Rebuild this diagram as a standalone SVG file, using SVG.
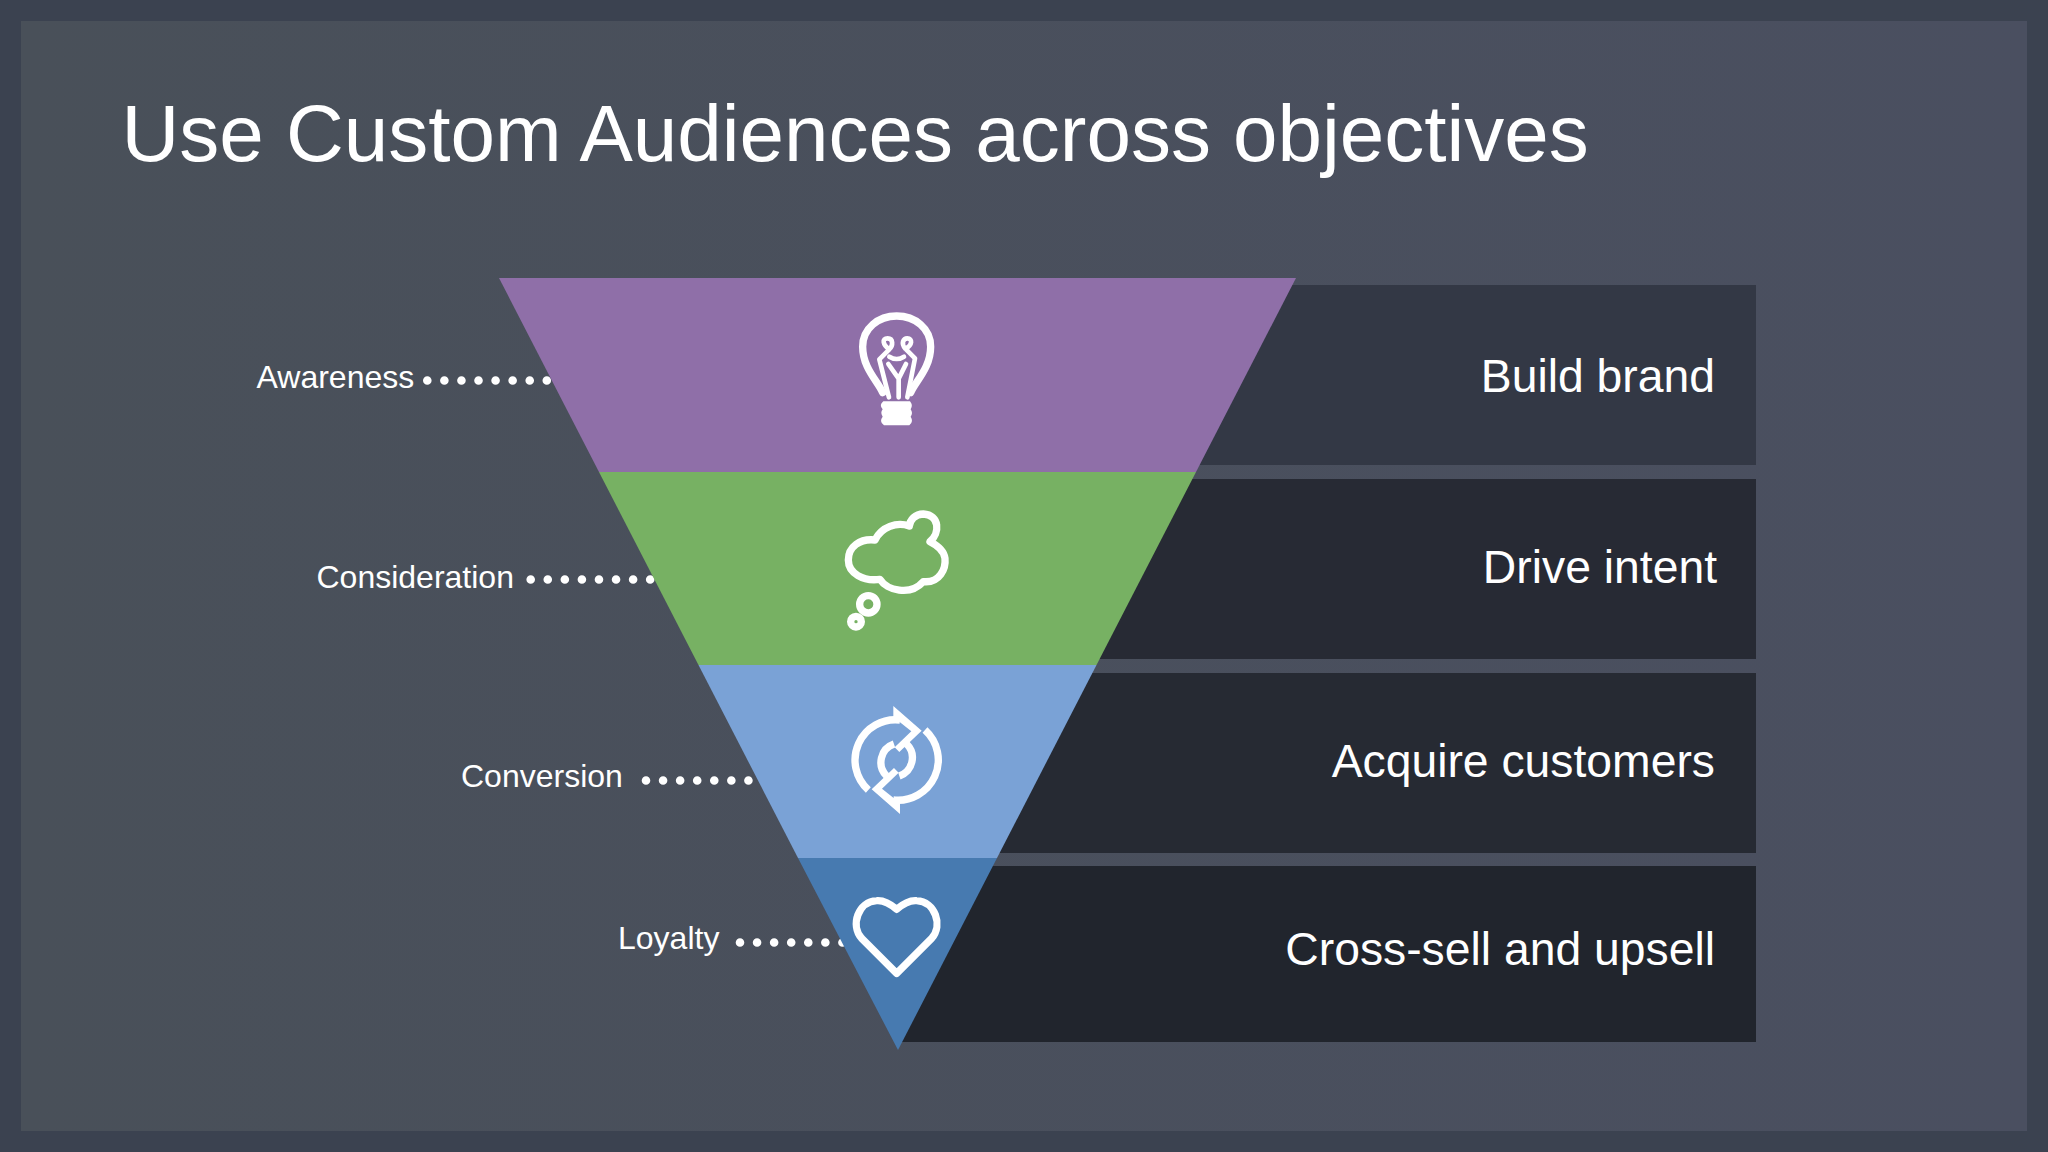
<svg xmlns="http://www.w3.org/2000/svg" xmlns:xlink="http://www.w3.org/1999/xlink" width="2048" height="1152" viewBox="0 0 2048 1152">
<defs>
<linearGradient id="bg" x1="0" y1="0" x2="1" y2="0"><stop offset="0" stop-color="#495059"/><stop offset="1" stop-color="#4a4f60"/></linearGradient>
<g id="syncHalf"><path d="M145,300 A121,121 0 0 1 240,90" class="z" style="stroke-linecap:butt"/><path d="M222,162 A58,58 0 0 0 200,258" class="z" style="stroke-linecap:butt"/><polygon points="220,48 305,122 238,186 224,172 274,124 240,97 220,85" fill="#fff"/></g>
</defs>
<style>
.t{font-family:"Liberation Sans",Arial,sans-serif;fill:#fff}
.lab{font-size:32px}
.big{font-size:46.3px;text-anchor:end}
.z{fill:none;stroke:#fff;stroke-width:22;stroke-linejoin:round;stroke-linecap:round}
.f{fill:none;stroke:#fff;stroke-width:14;stroke-linejoin:round;stroke-linecap:round}
.d{fill:none;stroke:#fff;stroke-width:8.6;stroke-linecap:round;stroke-dasharray:0 17.07}
</style>
<rect width="2048" height="1152" fill="#3b4250"/>
<rect x="21" y="21" width="2006" height="1110" fill="url(#bg)"/>
<text class="t" x="121.5" y="161" font-size="80">Use Custom Audiences across objectives</text>
<g id="bars">
<g id="bar-build"><rect x="1100" y="285" width="656" height="180" fill="#333845"/><text class="t big" x="1715" y="392">Build brand</text></g>
<g id="bar-drive"><rect x="1050" y="479" width="706" height="180" fill="#272a34"/><text class="t big" x="1717" y="583">Drive intent</text></g>
<g id="bar-acquire"><rect x="950" y="673" width="806" height="180" fill="#262a33"/><text class="t big" x="1715" y="777">Acquire customers</text></g>
<g id="bar-cross"><rect x="902" y="866" width="854" height="176" fill="#21252d"/><text class="t big" x="1715" y="965">Cross-sell and upsell</text></g>
</g>
<g id="connectors">
<line class="d" x1="427.3" y1="380.5" x2="548" y2="380.5"/>
<line class="d" x1="530.7" y1="579.5" x2="651" y2="579.5"/>
<line class="d" x1="646" y1="780.5" x2="750" y2="780.5"/>
<line class="d" x1="740" y1="942.5" x2="844" y2="942.5"/>
</g>
<g id="funnel">
<g id="awareness"><polygon points="499,278 1296,278 1196,472 599,472" fill="#8f6fa8"/>
<g transform="translate(820 290) scale(.3333)"><path class="z" d="M188,308 C175,275 128,235 128,170 C128,115 175,78 230,78 C285,78 332,115 332,170 C332,235 285,275 272,308"/><path class="f" d="M207,322 L178,208 L208,178 C188,165 185,145 203,145 C220,145 220,168 208,178 M262,322 L285,205 L256,176 C242,160 250,145 262,145 C278,145 278,166 256,176"/><path class="f" d="M208,200 Q230,214 252,200 M236,322 L236,266 L205,222 M236,266 L258,222"/><path d="M190,334 H270 Q280,345 272,358 Q280,370 272,380 Q282,395 268,406 H192 Q176,395 188,380 Q180,368 188,358 Q176,345 190,334Z" fill="#fff"/></g></g>
<g id="consideration"><polygon points="599,472 1196,472 1096.5,665 698.5,665" fill="#77b163"/>
<g transform="translate(820 490) scale(.3333)"><path class="z" d="M165,150 C120,145 85,170 85,210 C85,250 130,275 180,268 C200,300 270,320 310,275 C360,280 378,235 375,205 C372,180 350,165 330,155 C360,130 360,75 310,72 C285,72 270,90 268,108 C230,95 185,110 165,150 Z"/><circle class="z" cx="145" cy="343" r="26"/><circle class="z" cx="108" cy="395" r="16"/></g></g>
<g id="conversion"><polygon points="698.5,665 1096.5,665 997,858 798,858" fill="#7aa2d6"/>
<g transform="translate(820 690) scale(.3333)"><use xlink:href="#syncHalf"/><use xlink:href="#syncHalf" transform="rotate(180 230 210)"/></g></g>
<g id="loyalty"><polygon points="798,858 997,858 898,1050" fill="#477ab0"/>
<g transform="translate(820 860) scale(.3333)"><path class="z" d="M230,340 L125,235 C90,195 115,125 170,122 C195,120 215,135 230,148 C245,135 265,120 290,122 C345,125 370,195 335,235 Z"/></g></g>
</g>
<text class="t lab" x="256.5" y="388">Awareness</text>
<text class="t lab" x="316.5" y="588">Consideration</text>
<text class="t lab" x="461" y="787">Conversion</text>
<text class="t lab" x="618" y="949">Loyalty</text>
</svg>
